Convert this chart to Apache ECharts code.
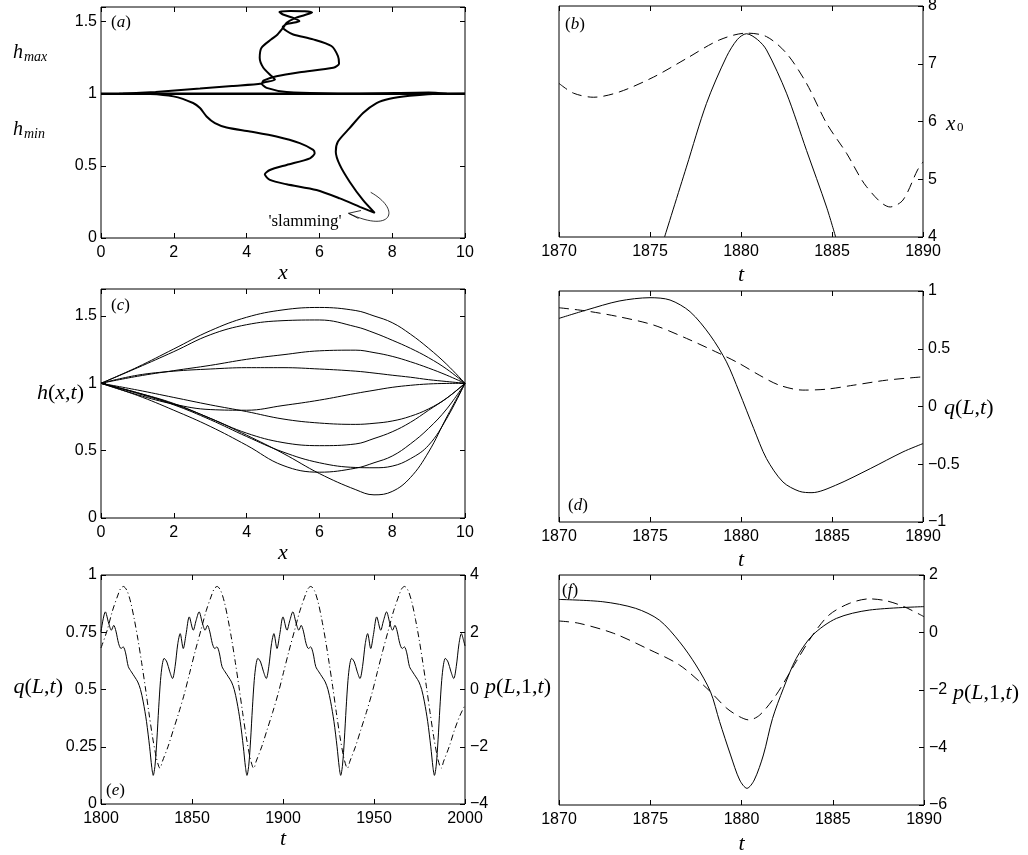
<!DOCTYPE html>
<html>
<head>
<meta charset="utf-8">
<title>thin film panels</title>
<script src="https://cdn.jsdelivr.net/npm/echarts@6/dist/echarts.min.js"></script>
<style>
  html, body { margin: 0; padding: 0; background: #fff; }
  #main { width: 1028px; height: 855px; }
</style>
</head>
<body>
<div id="main"></div>
<script>
// ---------------- data ----------------

// (a) location of h_max / h_min against x, in time order
var aUpperTrace = [[0.6,1.0],[1.5,1.012],[2.72,1.035],[3.6,1.053],[4.41,1.07],[4.46,1.09],[4.82,1.12],[5.46,1.148],
  [6.38,1.179],[6.54,1.207],[6.51,1.26],[6.33,1.33],[5.83,1.376],[5.28,1.41],[5.1,1.434],[4.99,1.46],[5.1,1.482],
  [5.45,1.502],[5.3,1.522],[5.0,1.548],[4.9,1.566],[5.2,1.572],[5.6,1.57],[5.8,1.562],[5.6,1.545],[5.3,1.52],
  [5.1,1.49],[5.0,1.455],[4.85,1.41],[4.68,1.376],[4.41,1.318],[4.36,1.248],[4.46,1.179],[4.69,1.12],[4.78,1.097],
  [4.41,1.07],[4.55,1.04],[5.1,1.012],[7.1,1.0],[9.0,1.008],[9.5,1.0]];
var aLowerTrace = [[0.5,1.0],[1.345,0.998],[1.99,0.981],[2.53,0.935],[2.72,0.9],[2.9,0.842],[3.13,0.796],[3.45,0.766],
  [4.09,0.738],[4.82,0.703],[5.46,0.657],[5.83,0.61],[5.87,0.587],[5.74,0.552],[5.1,0.506],[4.64,0.471],[4.5,0.441],
  [4.64,0.402],[5.1,0.372],[5.92,0.332],[6.56,0.274],[7.11,0.216],[7.52,0.174],[7.2,0.262],[6.83,0.39],[6.56,0.506],
  [6.45,0.598],[6.51,0.668],[6.83,0.761],[7.2,0.866],[7.57,0.935],[7.93,0.965],[8.48,0.985],[9.12,0.998],[10,1.0]];
var aLevel = [[0, 1], [10, 1]];

// (b) x0 against t
var bSolid = [[1875.8,4.0],[1877,5.21],[1878.1,6.31],[1879.2,7.12],[1879.8,7.42],[1880.3,7.52],[1880.9,7.42],
  [1881.4,7.24],[1882.5,6.49],[1883.6,5.5],[1884.7,4.52],[1885.2,4.0]];
var bDashed = [[1870,6.66],[1870.8,6.49],[1871.9,6.42],[1873.3,6.51],[1875.2,6.77],[1877,7.09],[1878.8,7.41],
  [1880.3,7.53],[1881.4,7.47],[1882.5,7.18],[1883.6,6.66],[1884.7,5.97],[1885.8,5.45],[1886.9,4.87],[1888.2,4.52],
  [1888.9,4.64],[1889.7,5.16],[1890,5.3]];

// (c) profiles h(x,t), sampled at cX
var cX = [0, 1, 2, 3, 4, 5, 6, 7, 7.5, 8, 8.5, 9, 9.5, 10];
var cProfiles = [
  [1, 1.12, 1.255, 1.39, 1.49, 1.545, 1.563, 1.54, 1.5, 1.45, 1.365, 1.26, 1.14, 1],
  [1, 1.115, 1.235, 1.36, 1.435, 1.465, 1.47, 1.42, 1.375, 1.32, 1.26, 1.19, 1.105, 1],
  [1, 1.052, 1.094, 1.133, 1.178, 1.212, 1.241, 1.246, 1.228, 1.2, 1.16, 1.113, 1.06, 1],
  [1, 1.06, 1.09, 1.106, 1.116, 1.116, 1.106, 1.09, 1.076, 1.06, 1.045, 1.027, 1.013, 1],
  [1, 0.915, 0.845, 0.805, 0.8, 0.835, 0.875, 0.925, 0.948, 0.97, 0.985, 0.995, 0.999, 1],
  [1, 0.95, 0.895, 0.84, 0.79, 0.735, 0.705, 0.695, 0.703, 0.72, 0.755, 0.81, 0.89, 1],
  [1, 0.93, 0.85, 0.74, 0.63, 0.56, 0.537, 0.55, 0.59, 0.64, 0.71, 0.8, 0.89, 1],
  [1, 0.925, 0.84, 0.73, 0.605, 0.49, 0.41, 0.375, 0.373, 0.385, 0.44, 0.54, 0.74, 1],
  [1, 0.91, 0.8, 0.68, 0.54, 0.39, 0.34, 0.37, 0.41, 0.46, 0.55, 0.665, 0.81, 1],
  [1, 0.93, 0.845, 0.74, 0.615, 0.48, 0.33, 0.21, 0.172, 0.197, 0.3, 0.49, 0.75, 1]
];

// (d) q(L,t)
var dSolid = [[1870,0.763],[1871.5,0.835],[1873.3,0.913],[1875,0.942],[1876.1,0.922],[1877.2,0.821],[1878.3,0.618],
  [1879.2,0.387],[1879.9,0.127],[1880.7,-0.191],[1881.4,-0.451],[1882.3,-0.653],[1883.2,-0.734],[1883.9,-0.746],
  [1885.2,-0.682],[1887.1,-0.538],[1888.9,-0.393],[1890,-0.321]];
var dDashed = [[1870,0.855],[1871.5,0.827],[1873.3,0.777],[1875.2,0.705],[1877,0.59],[1878.8,0.46],[1879.9,0.373],
  [1881,0.272],[1882.1,0.185],[1883.4,0.142],[1884.7,0.15],[1886.2,0.185],[1888,0.228],[1890,0.257]];

// (e) q(L,t) (left) and p(L,1,t) (right), long run
var eQ = [[1800,0.752],[1802.4,0.839],[1804.2,0.79],[1805.7,0.759],[1807.0,0.78],[1808.2,0.755],[1809.7,0.7],
  [1811.0,0.679],[1812.2,0.686],[1813.5,0.66],[1815.0,0.6],[1816.7,0.577],[1818.5,0.555],[1820.2,0.533],[1821.7,0.5],
  [1823.2,0.446],[1825.0,0.36],[1826.7,0.25],[1827.9,0.16],
  [1828.7,0.125],[1829.7,0.17],[1830.7,0.28],[1831.7,0.42],[1832.7,0.54],[1833.7,0.61],[1834.7,0.636],[1836.2,0.62],
  [1837.7,0.58],[1839.3,0.548],[1840.7,0.6],[1842.2,0.7],[1843.5,0.744],[1845.2,0.679],[1846.7,0.74],[1848.5,0.817],
  [1850.7,0.759],[1852.2,0.8],[1853.9,0.839],[1855.7,0.79],[1857.2,0.759],[1858.5,0.78],[1859.7,0.755],[1861.2,0.7],
  [1862.5,0.679],[1863.7,0.686],[1865.0,0.66],[1866.5,0.6],[1868.2,0.577],[1870.0,0.555],[1871.7,0.533],[1873.2,0.5],
  [1874.7,0.446],[1876.5,0.36],[1878.2,0.25],[1879.4,0.16],
  [1880.2,0.125],[1881.2,0.17],[1882.2,0.28],[1883.2,0.42],[1884.2,0.54],[1885.2,0.61],[1886.2,0.636],[1887.7,0.62],
  [1889.2,0.58],[1890.8,0.548],[1892.2,0.6],[1893.7,0.7],[1895.0,0.744],[1896.7,0.679],[1898.2,0.74],[1900.0,0.817],
  [1902.2,0.759],[1903.7,0.8],[1905.4,0.839],[1907.2,0.79],[1908.7,0.759],[1910.0,0.78],[1911.2,0.755],[1912.7,0.7],
  [1914.0,0.679],[1915.2,0.686],[1916.5,0.66],[1918.0,0.6],[1919.7,0.577],[1921.5,0.555],[1923.2,0.533],[1924.7,0.5],
  [1926.2,0.446],[1928.0,0.36],[1929.7,0.25],[1930.9,0.16],
  [1931.7,0.125],[1932.7,0.17],[1933.7,0.28],[1934.7,0.42],[1935.7,0.54],[1936.7,0.61],[1937.7,0.636],[1939.2,0.62],
  [1940.7,0.58],[1942.3,0.548],[1943.7,0.6],[1945.2,0.7],[1946.5,0.744],[1948.2,0.679],[1949.7,0.74],[1951.5,0.817],
  [1953.7,0.759],[1955.2,0.8],[1956.9,0.839],[1958.7,0.79],[1960.2,0.759],[1961.5,0.78],[1962.7,0.755],[1964.2,0.7],
  [1965.5,0.679],[1966.7,0.686],[1968.0,0.66],[1969.5,0.6],[1971.2,0.577],[1973.0,0.555],[1974.7,0.533],[1976.2,0.5],
  [1977.7,0.446],[1979.5,0.36],[1981.2,0.25],[1982.4,0.16],
  [1983.2,0.125],[1984.2,0.17],[1985.2,0.28],[1986.2,0.42],[1987.2,0.54],[1988.2,0.61],[1989.2,0.636],[1990.7,0.62],
  [1992.2,0.58],[1993.8,0.548],[1995.2,0.6],[1996.7,0.7],[1998.0,0.744],[1999.2,0.715],[2000,0.69]];
var eP = [[1800,1.45],[1803.3,2.05],[1806.3,2.75],[1809.3,3.3],[1810.8,3.53],[1812.3,3.6],[1814.3,3.45],[1816.3,3.05],
  [1818.3,2.45],[1820.3,1.75],[1822.3,0.95],[1824.3,0.1],[1826.3,-0.8],[1828.3,-1.65],[1830.3,-2.35],[1831.8,-2.7],
  [1832.4,-2.75],
  [1833.8,-2.5],[1836.8,-2.0],[1839.8,-1.4],[1842.8,-0.8],[1845.8,-0.15],[1848.8,0.6],[1851.8,1.35],[1854.8,2.05],
  [1857.8,2.75],[1860.8,3.3],[1862.3,3.53],[1863.8,3.6],[1865.8,3.45],[1867.8,3.05],[1869.8,2.45],[1871.8,1.75],
  [1873.8,0.95],[1875.8,0.1],[1877.8,-0.8],[1879.8,-1.65],[1881.8,-2.35],[1883.3,-2.7],[1883.9,-2.75],
  [1885.3,-2.5],[1888.3,-2.0],[1891.3,-1.4],[1894.3,-0.8],[1897.3,-0.15],[1900.3,0.6],[1903.3,1.35],[1906.3,2.05],
  [1909.3,2.75],[1912.3,3.3],[1913.8,3.53],[1915.3,3.6],[1917.3,3.45],[1919.3,3.05],[1921.3,2.45],[1923.3,1.75],
  [1925.3,0.95],[1927.3,0.1],[1929.3,-0.8],[1931.3,-1.65],[1933.3,-2.35],[1934.8,-2.7],[1935.4,-2.75],
  [1936.8,-2.5],[1939.8,-2.0],[1942.8,-1.4],[1945.8,-0.8],[1948.8,-0.15],[1951.8,0.6],[1954.8,1.35],[1957.8,2.05],
  [1960.8,2.75],[1963.8,3.3],[1965.3,3.53],[1966.8,3.6],[1968.8,3.45],[1970.8,3.05],[1972.8,2.45],[1974.8,1.75],
  [1976.8,0.95],[1978.8,0.1],[1980.8,-0.8],[1982.8,-1.65],[1984.8,-2.35],[1986.3,-2.7],[1986.9,-2.75],
  [1988.3,-2.5],[1991.3,-2.0],[1994.3,-1.4],[1997.3,-0.9],[2000,-0.55]];

// (f) p(L,1,t)
var fSolid = [[1870,1.15],[1872.4,1.07],[1874.2,0.84],[1875.5,0.43],[1876.6,-0.32],[1877.5,-1.13],[1878.3,-2.06],
  [1878.8,-3.1],[1879.4,-4.26],[1879.9,-5.13],[1880.3,-5.42],[1880.7,-5.13],[1881.2,-4.26],[1881.7,-2.99],
  [1882.3,-1.94],[1883,-0.9],[1883.9,-0.09],[1885.2,0.49],[1887,0.78],[1890,0.9]];
var fDashed = [[1870,0.4],[1871.1,0.32],[1873,-0.03],[1874.8,-0.55],[1876.6,-1.13],[1878.1,-1.94],[1879.2,-2.64],
  [1879.9,-2.93],[1880.4,-3.04],[1881,-2.87],[1881.9,-2.17],[1883,-1.01],[1883.9,-0.09],[1884.8,0.61],[1885.9,1.01],
  [1887,1.17],[1887.95,1.1],[1888.9,0.9],[1890,0.55]];

// tick labels
var xTicks10 = [0, 2, 4, 6, 8, 10];
var tTicksShort = [1870, 1875, 1880, 1885, 1890];
var tTicksLong = [1800, 1850, 1900, 1950, 2000];
var hTicks = [0, 0.5, 1, 1.5];
var x0Ticks = [4, 5, 6, 7, 8];
var qTicksD = [-1, -0.5, 0, 0.5, 1];
var qTicksE = [0, 0.25, 0.5, 0.75, 1];
var pTicksE = [-4, -2, 0, 2, 4];
var pTicksF = [-6, -4, -2, 0, 2];

// ---------------- styling helpers ----------------
var serif = 'Liberation Serif';
var mathRich = {
  i: { fontFamily: serif, fontStyle: 'italic', fontSize: 22, color: '#000' },
  r: { fontFamily: serif, fontSize: 22, color: '#000' }
};
var tagRich = {
  i: { fontFamily: serif, fontStyle: 'italic', fontSize: 17, color: '#000' },
  r: { fontFamily: serif, fontSize: 17, color: '#000' }
};

function tickFmt(list) {
  return function (v) {
    for (var i = 0; i < list.length; i++) {
      if (Math.abs(list[i] - v) < 1e-6) return String(list[i]).replace('-', '\u2212');
    }
    return '';
  };
}

var grids = [
  { left: 101, top: 7, width: 364, height: 231 },   // a
  { left: 559, top: 6, width: 364, height: 231 },   // b
  { left: 101, top: 289, width: 364, height: 229 }, // c
  { left: 559, top: 291, width: 364, height: 231 }, // d
  { left: 101, top: 575, width: 364, height: 229 }, // e
  { left: 559, top: 575, width: 365, height: 230 }  // f
].map(function (g) {
  return Object.assign({ show: true, borderColor: '#000', borderWidth: 1, backgroundColor: 'transparent', outerBoundsMode: 'none' }, g);
});

var xAxes = [];
var yAxes = [];

function tickStyle() {
  return { show: true, inside: true, length: 5, lineStyle: { color: '#000', width: 1 } };
}
// axis line is left to the grid border; onZero off so mirrored axes stay on the frame
var noLine = { show: false, onZero: false };

// bottom axis with labels + mirrored ticks on top
function addX(g, min, max, interval, ticks, name, gap) {
  xAxes.push({
    type: 'value', gridIndex: g, position: 'bottom', min: min, max: max, interval: interval,
    axisLine: noLine, splitLine: { show: false }, axisTick: tickStyle(),
    axisLabel: { margin: 7, color: '#000', fontFamily: 'Liberation Sans', fontSize: 16, formatter: tickFmt(ticks) },
    name: name, nameLocation: 'middle', nameGap: gap, nameTextStyle: { rich: mathRich }
  });
  xAxes.push({
    type: 'value', gridIndex: g, position: 'top', min: min, max: max, interval: interval,
    axisLine: noLine, splitLine: { show: false }, axisTick: tickStyle(), axisLabel: { show: false }
  });
  return xAxes.length - 2;
}

function addY(g, pos, min, max, interval, ticks, labels) {
  yAxes.push({
    type: 'value', gridIndex: g, position: pos, min: min, max: max, interval: interval,
    axisLine: noLine, splitLine: { show: false }, axisTick: tickStyle(),
    axisLabel: { show: labels, margin: pos === 'left' ? 4 : 5, color: '#000', fontFamily: 'Liberation Sans', fontSize: 16, formatter: tickFmt(ticks) }
  });
  return yAxes.length - 1;
}

var series = [];
function addLine(xi, yi, data, dash, width, smooth) {
  series.push({
    type: 'line', xAxisIndex: xi, yAxisIndex: yi, data: data,
    symbol: 'none', showSymbol: false, silent: true, clip: true,
    smooth: smooth === undefined ? 0.3 : smooth,
    lineStyle: { color: '#000', width: width || 1, type: dash || 'solid' }
  });
}

var dashed = [10, 6];
var dashDot = [6, 3, 1, 3];

// (a)
var xa = addX(0, 0, 10, 2, xTicks10, '{i|x}', 22);
var ya = addY(0, 'left', 0, 1.6, 0.5, hTicks, true);
addY(0, 'right', 0, 1.6, 0.5, hTicks, false);
addLine(xa, ya, aLevel, 'solid', 2.5, false);
addLine(xa, ya, aUpperTrace, 'solid', 2, 0.25);
addLine(xa, ya, aLowerTrace, 'solid', 2, 0.25);

// (b)
var xb = addX(1, 1870, 1890, 5, tTicksShort, '{i|t}', 27);
var yb = addY(1, 'right', 4, 8, 1, x0Ticks, true);
addLine(xb, yb, bSolid, 'solid', 1);
addLine(xb, yb, bDashed, dashed, 1);

// (c)
var xc = addX(2, 0, 10, 2, xTicks10, '{i|x}', 21);
var yc = addY(2, 'left', 0, 1.7, 0.5, hTicks, true);
addY(2, 'right', 0, 1.7, 0.5, hTicks, false);
cProfiles.forEach(function (p) {
  addLine(xc, yc, cX.map(function (x, i) { return [x, p[i]]; }), 'solid', 1, 0.4);
});

// (d)
var xd = addX(3, 1870, 1890, 5, tTicksShort, '{i|t}', 27);
var yd = addY(3, 'right', -1, 1, 0.5, qTicksD, true);
addLine(xd, yd, dSolid, 'solid', 1);
addLine(xd, yd, dDashed, dashed, 1);

// (e)
var xe = addX(4, 1800, 2000, 50, tTicksLong, '{i|t}', 24);
var yeq = addY(4, 'left', 0, 1, 0.25, qTicksE, true);
var yep = addY(4, 'right', -4, 4, 2, pTicksE, true);
addLine(xe, yeq, eQ, 'solid', 1);
addLine(xe, yep, eP, dashDot, 1);

// (f)
var xf = addX(5, 1870, 1890, 5, tTicksShort, '{i|t}', 28);
var yf = addY(5, 'right', -6, 2, 2, pTicksF, true);
addLine(xf, yf, fSolid, 'solid', 1);
addLine(xf, yf, fDashed, dashed, 1);

// ---------------- annotations ----------------
function mathText(x, y, text, align) {
  return { type: 'text', x: x, y: y, silent: true,
    style: { text: text, rich: mathRich, align: align, verticalAlign: 'middle' } };
}
function tag(x, y, letter) {
  return { type: 'text', x: x, y: y, silent: true,
    style: { text: '{r|(}{i|' + letter + '}{r|)}', rich: tagRich, align: 'left', verticalAlign: 'middle' } };
}
function plain(x, y, text, font, align) {
  return { type: 'text', x: x, y: y, silent: true,
    style: { text: text, font: font, fill: '#000', align: align || 'left', verticalAlign: 'middle' } };
}

var graphics = [
  tag(111, 23, 'a'), tag(565, 25, 'b'), tag(111, 306, 'c'),
  tag(568, 506, 'd'), tag(106, 791, 'e'), tag(562, 591, 'f'),
  // h_max, h_min
  plain(13, 53, 'h', 'italic 20px "Liberation Serif"'),
  plain(24, 57, 'max', 'italic 14px "Liberation Serif"'),
  plain(13, 130, 'h', 'italic 20px "Liberation Serif"'),
  plain(24, 134, 'min', 'italic 14px "Liberation Serif"'),
  // x_0
  plain(946, 124, 'x', 'italic 21px "Liberation Serif"'),
  plain(957, 128, '0', '13px "Liberation Serif"'),
  // y titles
  mathText(84, 393, '{i|h}{r|(}{i|x}{r|,}{i|t}{r|)}', 'right'),
  mathText(944, 408, '{i|q}{r|(}{i|L}{r|,}{i|t}{r|)}', 'left'),
  mathText(63, 687, '{i|q}{r|(}{i|L}{r|,}{i|t}{r|)}', 'right'),
  mathText(485, 687, '{i|p}{r|(}{i|L}{r|,1,}{i|t}{r|)}', 'left'),
  mathText(953, 693, '{i|p}{r|(}{i|L}{r|,1,}{i|t}{r|)}', 'left'),
  // 'slamming' annotation
  plain(305, 222, "'slamming'", '17px "Liberation Serif"', 'center'),
  { type: 'bezierCurve', silent: true,
    shape: { x1: 370.7, y1: 192.3, cpx1: 402, cpy1: 210, cpx2: 392, cpy2: 234, x2: 348.5, y2: 213.3 },
    style: { stroke: '#000', lineWidth: 0.8, fill: null } },
  { type: 'polyline', silent: true,
    shape: { points: [[361, 210.5], [348.5, 213.3], [358.5, 218.5]] },
    style: { stroke: '#000', lineWidth: 0.8, fill: null } }
];

var chart = echarts.init(document.getElementById('main'), null, { renderer: 'canvas' });
chart.setOption({
  backgroundColor: '#fff',
  animation: false,
  grid: grids,
  xAxis: xAxes,
  yAxis: yAxes,
  series: series,
  graphic: graphics
});
</script>
</body>
</html>
